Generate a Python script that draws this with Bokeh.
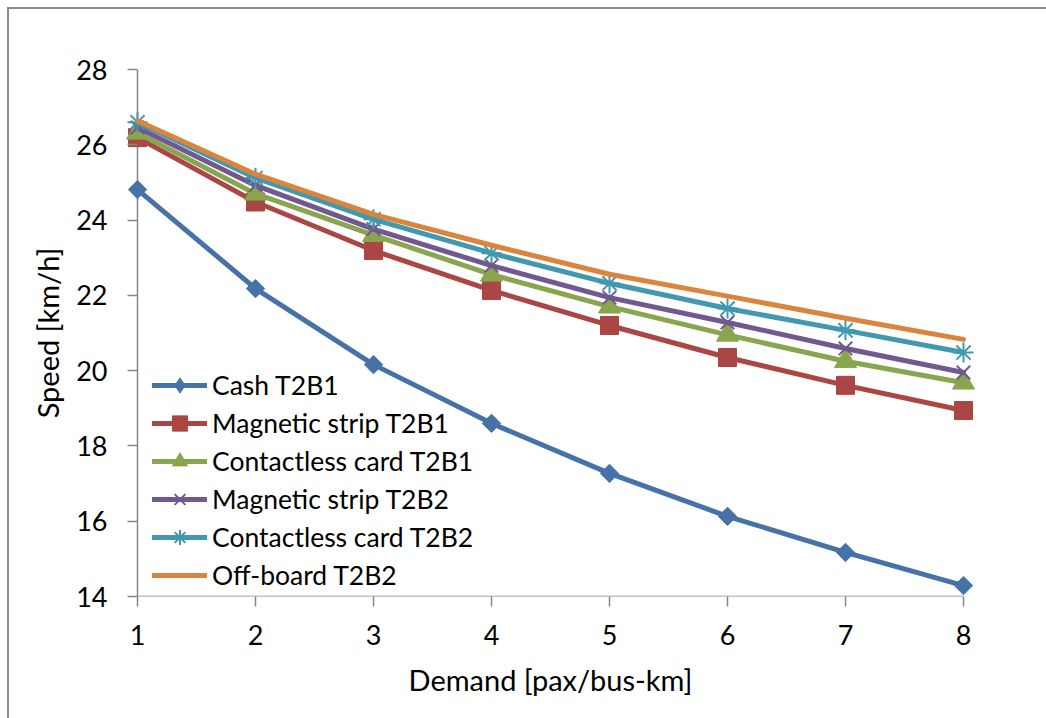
import numpy as np
from bokeh.plotting import figure
from bokeh.models import Range1d, FixedTicker, Legend, Span
from bokeh.embed import file_html
from bokeh.resources import INLINE

# Demand levels (pax/bus-km)
demand = [1, 2, 3, 4, 5, 6, 7, 8]

# Commercial speed (km/h) per fare-collection scenario
cash_t2b1 = [24.81, 22.18, 20.16, 18.60, 17.27, 16.13, 15.17, 14.29]
magnetic_t2b1 = [26.19, 24.48, 23.19, 22.13, 21.20, 20.35, 19.61, 18.94]
contactless_t2b1 = [26.32, 24.70, 23.60, 22.55, 21.70, 20.95, 20.25, 19.68]
magnetic_t2b2 = [26.46, 24.92, 23.76, 22.79, 21.94, 21.28, 20.59, 19.95]
contactless_t2b2 = [26.60, 25.12, 24.02, 23.12, 22.32, 21.65, 21.07, 20.48]
offboard_t2b2 = [26.64, 25.22, 24.15, 23.33, 22.56, 21.98, 21.39, 20.83]

y_ticks = [14, 16, 18, 20, 22, 24, 26, 28]

FONT = "Lato"
AXIS_GREY = "#868686"
EDGE_GREY = "#8c8c8c"

# frame spans a little beyond 1..8 so that end markers are not clipped
px_per_unit = 826 / 7
pad = 24 / px_per_unit

p = figure(
    width=1046, height=718,
    x_range=Range1d(1 - pad, 8 + pad),
    y_range=Range1d(14, 28),
    output_backend="svg", toolbar_location=None,
    min_border_left=113, min_border_right=59,
    min_border_top=69, min_border_bottom=122,
    background_fill_color="white", border_fill_color=None,
)
# chart-area edge (top and left), painted behind the transparent border area
p.styles = {
    "background": (
        f"linear-gradient({EDGE_GREY}, {EDGE_GREY}) 7px 7px / 2px 100% no-repeat, "
        f"linear-gradient({EDGE_GREY}, {EDGE_GREY}) 7px 7px / 100% 2px no-repeat, "
        "#ffffff"
    )
}
p.outline_line_color = None
p.xgrid.visible = False
p.ygrid.visible = False

# axis lines: value axis at demand = 1, category axis from 1 to 8 at the range floor
p.add_layout(Span(location=demand[0], dimension="height", line_color=AXIS_GREY,
                  line_width=1.5, level="underlay"))
p.line([demand[0], demand[-1]], [y_ticks[0], y_ticks[0]], line_color=AXIS_GREY,
       line_width=1.5, level="underlay")

series = [
    ("Cash T2B1", cash_t2b1, "#4572A7", dict(marker="square", size=13, angle=np.pi / 4)),
    ("Magnetic strip T2B1", magnetic_t2b1, "#AA4643", dict(marker="square", size=18)),
    ("Contactless card T2B1", contactless_t2b1, "#89A54E", dict(marker="triangle", size=22)),
    ("Magnetic strip T2B2", magnetic_t2b2, "#71588F", dict(marker="x", size=19, line_width=2)),
    ("Contactless card T2B2", contactless_t2b2, "#4198AF", dict(marker="asterisk", size=20, line_width=2)),
    ("Off-board T2B2", offboard_t2b2, "#DB843D", None),
]

items = []
for name, vals, color, mk in series:
    line_r = p.line(demand, vals, line_color=color, line_width=5,
                    line_cap="round", line_join="round")
    rs = [line_r]
    if mk is not None:
        opts = dict(mk)
        if opts["marker"] in ("x", "asterisk"):
            mark_r = p.scatter(demand, vals, line_color=color, **opts)
        else:
            mark_r = p.scatter(demand, vals, fill_color=color, line_color=color, **opts)
        if "angle" in opts:
            # legend swatch for the rotated-square marker (no point on the plot)
            mark_r = p.scatter([np.nan], [np.nan], marker="diamond",
                               fill_color=color, line_color=color)
        rs.append(mark_r)
    items.append((name, rs))

legend = Legend(items=items, location=(39, 2))
legend.background_fill_alpha = 0
legend.border_line_color = None
legend.padding = 0
legend.margin = 0
legend.spacing = 0
legend.glyph_width = 55
legend.glyph_height = 38
legend.label_height = 38
legend.label_standoff = 5
legend.label_text_font = FONT
legend.label_text_font_size = "26.5px"
legend.label_text_color = "black"
p.add_layout(legend, "center")

# x axis
xa = p.xaxis[0]
xa.ticker = FixedTicker(ticks=demand)
xa.axis_label = "Demand [pax/bus-km]"
xa.axis_line_color = None
xa.major_tick_out = 10
xa.major_tick_in = 0
xa.major_label_standoff = 18
xa.axis_label_standoff = 14

# y axis: ticks reach from demand = 1 outwards by 10 px
ya = p.yaxis[0]
ya.ticker = FixedTicker(ticks=y_ticks)
ya.axis_label = "Speed [km/h]"
ya.axis_line_color = None
ya.major_tick_in = 24
ya.major_tick_out = -14
ya.major_label_standoff = 6
ya.axis_label_standoff = 8

for ax in (xa, ya):
    ax.major_tick_line_color = AXIS_GREY
    ax.major_tick_line_width = 1.5
    ax.minor_tick_line_color = None
    ax.major_label_text_font = FONT
    ax.major_label_text_font_size = "27px"
    ax.major_label_text_color = "black"
    ax.axis_label_text_font = FONT
    ax.axis_label_text_font_size = "29px"
    ax.axis_label_text_font_style = "normal"
    ax.axis_label_text_color = "black"

open("out.html", "w").write(file_html(p, INLINE))
